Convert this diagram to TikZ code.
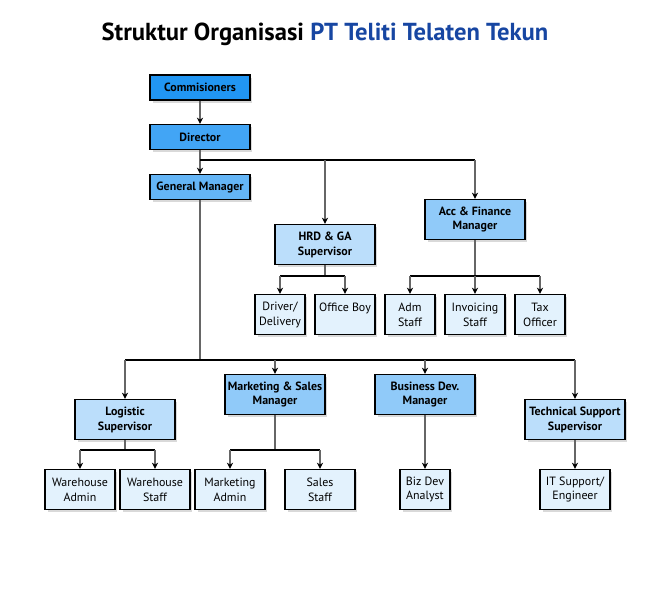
\documentclass[tikz,border=0pt]{standalone}
\usepackage{fontspec}
\setmainfont{PT Sans}
\usetikzlibrary{arrows.meta, shadows}
\definecolor{blueA}{HTML}{2196F3}
\definecolor{blueB}{HTML}{42A5F5}
\definecolor{blueC}{HTML}{64B5F6}
\definecolor{blueD}{HTML}{90CAF9}
\definecolor{blueE}{HTML}{BBDEFB}
\definecolor{blueF}{HTML}{E3F2FD}
\definecolor{titleblue}{HTML}{1746A2}
\definecolor{linegray}{HTML}{666666}
\tikzstyle{box} = [rectangle, draw=black, line width=0.8pt, align=center, inner sep=1pt, drop shadow={opacity=0.3, shadow xshift=0.05cm, shadow yshift=-0.05cm}]
\tikzstyle{head} = [box, minimum width=2cm, minimum height=0.5cm, font=\bfseries\fontsize{6.8}{8.5}\selectfont]
\tikzstyle{manager} = [box, minimum width=2cm, minimum height=0.8cm, fill=blueD, font=\bfseries\fontsize{6.8}{8.5}\selectfont]
\tikzstyle{supervisor} = [manager, fill=blueE]
\tikzstyle{staff} = [box, minimum height=0.8cm, fill=blueF, font=\fontsize{6.8}{8.5}\selectfont]
\tikzstyle{arrow} = [draw=linegray, line width=1.3pt, -{Stealth[black, length=3.5pt, width=3.5pt]}]
\tikzstyle{stem} = [draw=linegray, line width=1.3pt]
\tikzstyle{bus} = [draw=black, line width=0.7pt]

\begin{document}
\begin{tikzpicture}[x=0.02cm, y=-0.02cm]
\useasboundingbox (0,0) rectangle (650,600);

% title
\node (title) at (325,34) {\fontsize{14}{16}\selectfont\bfseries Struktur Organisasi \textcolor{titleblue}{PT Teliti Telaten Tekun}};

% top management
\node[head, fill=blueA] (com) at (200,87.5) {Commisioners};
\node[head, fill=blueB] (dir) at (200,137) {Director};
\node[head, fill=blueC] (gm) at (200,187) {General Manager};

% office side
\node[supervisor] (hrd) at (325,244.5) {HRD \& GA\\Supervisor};
\node[manager] (acc) at (475,219.5) {Acc \&\ Finance\\Manager};
\node[staff, minimum width=1cm] (drv) at (280,314.5) {Driver/\\Delivery};
\node[staff, minimum width=1.2cm] (boy) at (345,314.5) {Office Boy\\\mbox{}};
\node[staff, minimum width=1cm] (adm) at (410,314.5) {Adm\\Staff};
\node[staff, minimum width=1.2cm] (inv) at (475,314.5) {Invoicing\\Staff};
\node[staff, minimum width=1cm] (tax) at (540,314.5) {Tax\\Officer};

% operational side
\node[supervisor] (log) at (125,419.5) {Logistic\\Supervisor};
\node[manager] (mkt) at (275,394.5) {Marketing \& Sales\\Manager};
\node[manager] (biz) at (425,394.5) {Business Dev.\\Manager};
\node[supervisor] (tech) at (575,419.5) {Technical Support\\Supervisor};
\node[staff, minimum width=1.4cm] (wha) at (80,489.5) {Warehouse\\Admin};
\node[staff, minimum width=1.4cm] (whs) at (155,489.5) {Warehouse\\Staff};
\node[staff, minimum width=1.4cm] (mka) at (230,489.5) {Marketing\\Admin};
\node[staff, minimum width=1.4cm] (sls) at (320,489.5) {Sales\\Staff};
\node[staff, minimum width=1cm] (bda) at (425,489.5) {Biz Dev\\Analyst};
\node[staff, minimum width=1.4cm] (its) at (575,489.5) {IT Support/\\Engineer};

% bus points
\coordinate (busTop) at (200,160);
\coordinate (busMid) at (200,360);
\coordinate (busHrd) at (325,276);
\coordinate (busAcc) at (475,276);
\coordinate (busLog) at (125,450);
\coordinate (busMkt) at (275,450);

% connectors
\draw[arrow] (com) -- (dir);
\draw[arrow] (dir) -- (gm);
\draw[bus] (busTop) -- (busTop -| acc);
\draw[arrow] (busTop -| hrd) -- (hrd);
\draw[arrow] (busTop -| acc) -- (acc);

\draw[stem] (hrd) -- (busHrd);
\draw[bus] (busHrd -| drv) -- (busHrd -| boy);
\draw[arrow] (busHrd -| drv) -- (drv);
\draw[arrow] (busHrd -| boy) -- (boy);

\draw[stem] (acc) -- (busAcc);
\draw[bus] (busAcc -| adm) -- (busAcc -| tax);
\draw[arrow] (busAcc -| adm) -- (adm);
\draw[arrow] (busAcc) -- (inv);
\draw[arrow] (busAcc -| tax) -- (tax);

\draw[stem] (gm) -- (busMid);
\draw[bus] (busMid -| log) -- (busMid -| tech);
\draw[arrow] (busMid -| log) -- (log);
\draw[arrow] (busMid -| mkt) -- (mkt);
\draw[arrow] (busMid -| biz) -- (biz);
\draw[arrow] (busMid -| tech) -- (tech);

\draw[stem] (log) -- (busLog);
\draw[bus] (busLog -| wha) -- (busLog -| whs);
\draw[arrow] (busLog -| wha) -- (wha);
\draw[arrow] (busLog -| whs) -- (whs);

\draw[stem] (mkt) -- (busMkt);
\draw[bus] (busMkt -| mka) -- (busMkt -| sls);
\draw[arrow] (busMkt -| mka) -- (mka);
\draw[arrow] (busMkt -| sls) -- (sls);

\draw[arrow] (biz) -- (bda);
\draw[arrow] (tech) -- (its);

\end{tikzpicture}
\end{document}
